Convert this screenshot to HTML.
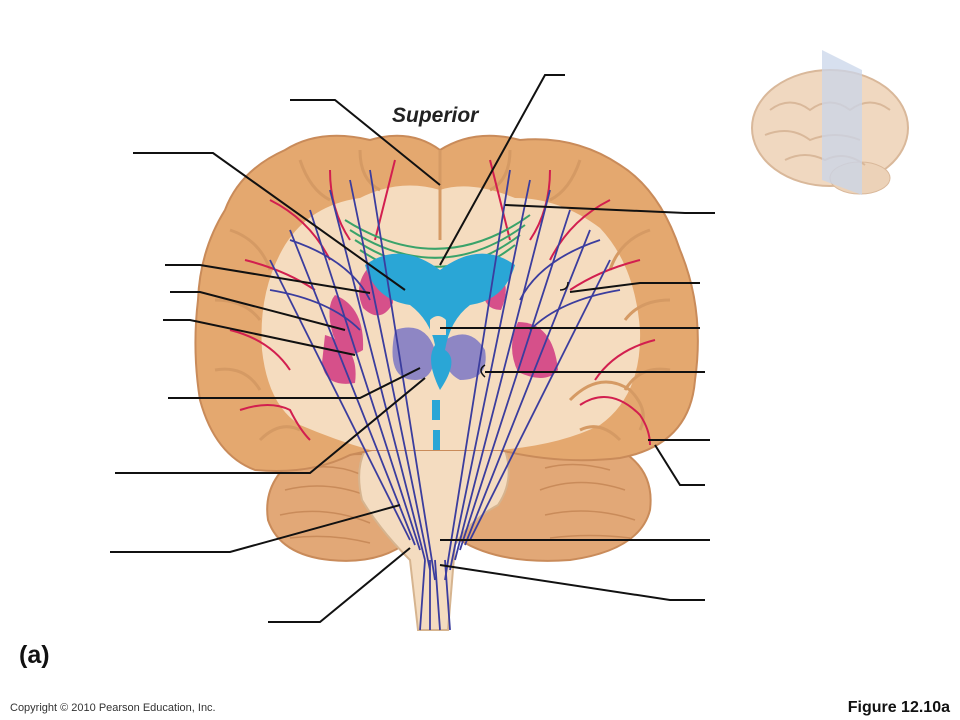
<!DOCTYPE html>
<html><head><meta charset="utf-8"><style>
html,body{margin:0;padding:0;background:#fff;}
svg{display:block}
</style></head><body>
<svg width="960" height="720" viewBox="0 0 960 720" xmlns="http://www.w3.org/2000/svg">
<rect width="960" height="720" fill="#fff"/>
<g>
<ellipse cx="830" cy="128" rx="78" ry="58" fill="#f0d8c0" stroke="#d9b89a" stroke-width="2"/>
<ellipse cx="860" cy="178" rx="30" ry="16" fill="#ecd2b8" stroke="#d9b89a"/>
<path d="M770 110 q20 -15 40 0 q20 -15 40 0 q20-15 40 0 M765 135 q25 -10 45 5 q25-10 50 0 M785 160 q20-10 40 0 q20 -10 40 5" stroke="#d9b89a" fill="none" stroke-width="2"/>
<polygon points="822,50 862,70 862,195 822,180" fill="#c9d6ea" opacity="0.75"/>
</g>
<path d="M300 455 Q262 480 268 520 Q280 555 330 560 Q380 565 410 540 L460 540 Q500 565 570 560 Q640 550 650 510 Q655 470 620 450 Z" fill="#e2a877" stroke="#c98b5a" stroke-width="2"/>
<g stroke="#c98b5a" fill="none" stroke-width="1.5">
<path d="M285 490 q40 -10 80 5 M280 515 q45 -10 90 8 M290 538 q40 -5 80 5 M300 470 q30 -8 60 4"/>
<path d="M540 490 q40 -15 85 0 M545 515 q45 -10 90 5 M550 538 q40 -5 80 0 M545 468 q30 -8 65 2"/>
</g>
<path d="M365 450 L505 450 Q515 480 498 505 Q470 520 455 545 L448 630 L418 630 L410 560 Q380 530 362 500 Q355 470 365 450 Z" fill="#f4dcc0" stroke="#d6b48f" stroke-width="2"/>
<path d="M440 150 Q410 128 370 140 Q320 128 285 150 Q240 170 225 210 Q200 250 198 300 Q192 350 200 400 Q215 455 255 470 Q310 475 350 455 L372 450 L500 450 Q560 465 620 458 Q690 445 695 380 Q705 310 680 250 Q660 190 620 165 Q575 135 520 140 Q475 128 440 150 Z" fill="#e4a86f" stroke="#c98b5a" stroke-width="2"/>
<path d="M440 190 Q400 178 360 198 Q310 205 285 245 Q258 290 262 350 Q268 405 300 425 Q335 440 370 450 L500 450 Q560 445 600 425 Q642 395 640 330 Q635 265 600 228 Q560 198 515 198 Q470 180 440 190 Z" fill="#f5dcbf"/>
<g stroke="#d59a64" fill="none" stroke-width="3">
<path d="M440 150 L440 240"/>
<path d="M230 230 q30 10 40 40 M215 300 q30 0 45 20 M215 370 q30 -5 45 20 M260 440 q20 -20 40 -10 M300 160 q10 30 30 40 M360 150 q0 30 20 40"/>
<path d="M650 230 q-30 10 -40 40 M670 300 q-30 0 -45 20 M670 370 q-30 -5 -45 20 M620 440 q-20 -20 -40 -10 M580 160 q-10 30 -30 40 M510 150 q0 30 -20 40"/>
<path d="M570 400 q30 -30 60 -10 q20 20 10 40"/>
</g>
<g stroke="#d21f4f" fill="none" stroke-width="2">
<path d="M270 200 q40 20 60 60 M245 260 q40 10 70 30 M230 330 q40 10 60 40 M240 410 q30 -10 50 0 q10 20 20 30 M330 170 q0 40 20 70 M395 160 q-10 40 -20 80"/>
<path d="M610 200 q-40 20 -60 60 M640 260 q-40 10 -70 30 M655 340 q-40 10 -60 40 M580 405 q30 -20 60 10 q10 15 10 30 M550 170 q0 40 -20 70 M490 160 q10 40 20 80"/>
</g>
<g stroke="#3aa36a" fill="none" stroke-width="2">
<path d="M345 220 Q440 280 530 215"/><path d="M350 230 Q440 288 525 225"/><path d="M355 240 Q440 296 520 235"/><path d="M360 250 Q440 304 515 245"/>
</g>
<g fill="#d6508a">
<path d="M368 268 q25 5 25 35 q-12 22 -30 5 q-10 -22 5 -40z"/>
<path d="M335 295 q30 12 28 55 q-18 12 -30 -15 q-8 -28 2 -40z"/>
<path d="M325 335 q35 10 30 48 q-30 5 -33 -20z"/>
<path d="M518 322 q35 0 40 48 q-12 15 -40 2 q-12 -25 0 -50z"/>
<path d="M495 272 q18 10 6 38 q-18 0 -18 -22z"/>
</g>
<path d="M395 330 q30 -10 40 20 q0 30 -20 30 q-30 0 -20 -50z M445 340 q25 -15 40 10 q5 30 -25 30 q-20 -10 -15 -40z" fill="#8e86c4"/>
<path d="M365 265 Q400 240 440 270 Q480 240 515 265 Q505 300 470 305 Q450 320 445 350 Q460 360 440 390 Q425 360 435 345 Q430 320 410 305 Q375 300 365 265 Z" fill="#2aa6d6"/>
<path d="M430 320 q8 -8 16 0 v15 h-16z" fill="#f5dcbf"/>
<path d="M432 400 h8 v20 h-8z M433 430 h7 v20 h-7z" fill="#2aa6d6"/>
<g stroke="#3b3d9e" fill="none" stroke-width="1.8">
<path d="M330 190 L425 560 M350 180 L430 570 M370 170 L435 580 M310 210 L420 550 M290 230 L415 545 M270 260 L410 540"/>
<path d="M550 190 L455 560 M530 180 L450 570 M510 170 L445 580 M570 210 L460 550 M590 230 L465 545 M610 260 L470 540"/>
<path d="M425 560 L420 630 M435 560 L440 630 M445 560 L450 630 M430 560 L430 630"/>
<path d="M290 240 q60 20 80 60 M600 240 q-60 20 -80 60 M270 290 q60 10 90 40 M620 290 q-60 10 -90 40"/>
</g>
<g stroke="#111" fill="none" stroke-width="2">
<polyline points="290,100 335,100 440,185"/>
<polyline points="133,153 213,153 405,290"/>
<polyline points="565,75 545,75 440,265"/>
<polyline points="165,265 200,265 370,293"/>
<polyline points="170,292 200,292 345,330"/>
<polyline points="163,320 190,320 355,355"/>
<polyline points="168,398 360,398 420,368"/>
<polyline points="115,473 310,473 425,378"/>
<polyline points="110,552 230,552 400,505"/>
<polyline points="268,622 320,622 410,548"/>
<polyline points="715,213 685,213 505,205"/>
<polyline points="700,283 640,283 570,292"/>
<polyline points="700,328 440,328"/>
<polyline points="705,372 485,372"/>
<polyline points="710,440 648,440"/>
<polyline points="705,485 680,485 655,445"/>
<polyline points="710,540 440,540"/>
<polyline points="705,600 670,600 440,565"/>
</g>
<path d="M560 290 q8 0 8 -8 M485 365 q-8 5 0 12" stroke="#111" fill="none" stroke-width="1.5"/>
<text x="392" y="122" font-family="Liberation Sans, sans-serif" font-size="21" font-weight="bold" font-style="italic" fill="#222">Superior</text>
<text x="19" y="663" font-family="Liberation Sans, sans-serif" font-size="25" font-weight="bold" fill="#111">(a)</text>
<text x="10" y="711" font-family="Liberation Sans, sans-serif" font-size="11" fill="#333">Copyright © 2010 Pearson Education, Inc.</text>
<text x="950" y="712" text-anchor="end" font-family="Liberation Sans, sans-serif" font-size="16" font-weight="bold" fill="#111">Figure 12.10a</text>
</svg>
</body></html>
